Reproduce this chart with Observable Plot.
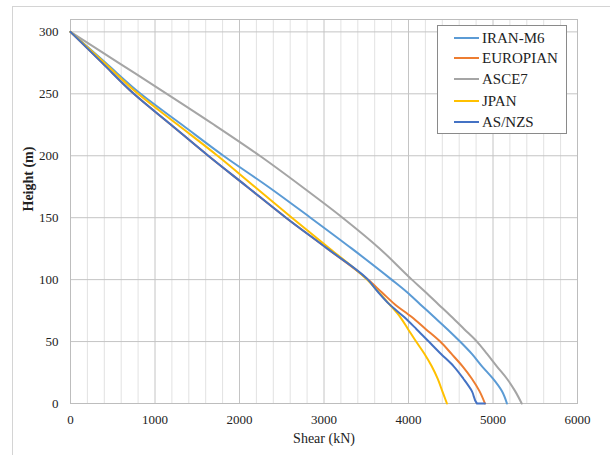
<!DOCTYPE html>
<html>
<head>
<meta charset="utf-8">
<script src="https://cdn.jsdelivr.net/npm/d3@7"></script>
<script src="https://cdn.jsdelivr.net/npm/@observablehq/plot@0.6"></script>
<style>
  html, body { margin: 0; padding: 0; background: #fff; }
  #wrap { position: relative; width: 610px; height: 455px; overflow: hidden; font-family: "Liberation Serif", serif; }
  #bt { position: absolute; left: 12px; top: 6px; right: 0; height: 0; border-top: 1px solid #d4d4d4; }
  #bl { position: absolute; left: 12px; top: 6px; bottom: 0; width: 0; border-left: 1px solid #d4d4d4; }
  #legend { position: absolute; left: 437px; top: 25px; width: 128px; height: 107px; border: 1px solid #8a8a8a; background: #fff; }
  .item { position: absolute; left: 0; height: 20px; display: flex; align-items: center; font-size: 15px; color: #222; }
  .sw { width: 25px; height: 2px; margin-left: 16px; margin-right: 3px; }
  #chart { position: absolute; left: 0; top: 0; }
</style>
</head>
<body>
<div id="wrap">
  <div id="bt"></div>
  <div id="bl"></div>
  <div id="chart"></div>
  <div id="legend"></div>
</div>
<script>
// Heights (m) at which shear values are read
const heights = [300, 275, 250, 225, 200, 175, 150, 125, 100, 90, 80, 70, 60, 50, 40, 30, 20, 10, 0];
const asnzsHeights = [300, 275, 250, 225, 200, 175, 150, 125, 100, 90, 80, 70, 60, 50, 40, 30, 20, 10, 0, 0];

// Shear (kN) per series
const iran     = [0, 415, 830, 1320, 1810, 2340, 2840, 3330, 3800, 3980, 4140, 4300, 4460, 4610, 4750, 4870, 5000, 5105, 5165];
const europian = [0, 375, 750, 1190, 1630, 2090, 2550, 3040, 3520, 3680, 3840, 4035, 4205, 4375, 4510, 4640, 4750, 4840, 4905];
const asce7    = [0, 570, 1140, 1700, 2240, 2740, 3220, 3660, 4040, 4200, 4355, 4510, 4660, 4810, 4930, 5045, 5165, 5262, 5340];
const jpan     = [0, 400, 800, 1270, 1740, 2180, 2620, 3070, 3510, 3645, 3775, 3900, 3995, 4090, 4190, 4275, 4345, 4400, 4455];
const asnzs    = [0, 375, 750, 1190, 1630, 2090, 2550, 3040, 3520, 3640, 3775, 3945, 4095, 4240, 4385, 4535, 4650, 4750, 4810, 4905];

const seriesNames = ["IRAN-M6", "EUROPIAN", "ASCE7", "JPAN", "AS/NZS"];
const seriesColors = ["#5B9BD5", "#ED7D31", "#A5A5A5", "#FFC000", "#4472C4"];

const xTicks = [0, 1000, 2000, 3000, 4000, 5000, 6000];
const yTicks = [0, 50, 100, 150, 200, 250, 300];
const xLabel = "Shear (kN)";
const yLabel = "Height (m)";

const seriesValues = [iran, europian, asce7, jpan, asnzs];
const seriesHeights = [heights, heights, heights, heights, asnzsHeights];

const minorX = d3.range(200, 6000, 200).filter(v => v % 1000 !== 0);
const FF = "Liberation Serif";

const lineMarks = seriesNames.map((name, i) => {
  const data = seriesValues[i].map((v, j) => ({shear: v, height: seriesHeights[i][j]}));
  return Plot.line(data, {x: "shear", y: "height", stroke: seriesColors[i], strokeWidth: 2, curve: "monotone-y"});
});

const chart = Plot.plot({
  width: 610,
  height: 455,
  marginLeft: 70,
  marginRight: 33,
  marginTop: 19,
  marginBottom: 52,
  style: {fontSize: "13px", background: "transparent", color: "#222"},
  x: {domain: [0, 6000]},
  y: {domain: [0, 310]},
  marks: [
    Plot.ruleX(minorX, {stroke: "#e2e2e2", strokeWidth: 1}),
    Plot.ruleX(xTicks, {stroke: "#c4c4c4", strokeWidth: 1}),
    Plot.ruleY(yTicks, {stroke: "#c4c4c4", strokeWidth: 1}),
    Plot.frame({stroke: "#bdbdbd"}),
    ...lineMarks,
    Plot.axisX({ticks: xTicks, tickSize: 0, tickPadding: 11, tickFormat: d => String(d), label: null, fontSize: 13}),
    Plot.axisY({ticks: yTicks, tickSize: 0, tickPadding: 12, tickFormat: d => String(d), label: null, fontSize: 13}),
    Plot.text([xLabel], {frameAnchor: "bottom", dy: 39, fontSize: 14, fill: "#222"}),
    Plot.text([yLabel], {frameAnchor: "left", dx: -42, rotate: -90, fontSize: 14, fontWeight: "bold", fill: "#222"})
  ]
});
chart.style.fontFamily = FF;
chart.querySelectorAll("g, text").forEach(el => {
  el.setAttribute("font-family", FF);
  el.style.fontFamily = FF;
});
document.getElementById("chart").appendChild(chart);

const legend = document.getElementById("legend");
const itemTops = [2, 22, 43, 65, 86];
seriesNames.forEach((name, i) => {
  const it = document.createElement("div");
  it.className = "item";
  it.style.top = itemTops[i] + "px";
  const sw = document.createElement("span");
  sw.className = "sw";
  sw.style.background = seriesColors[i];
  const tx = document.createElement("span");
  tx.textContent = name;
  it.appendChild(sw);
  it.appendChild(tx);
  legend.appendChild(it);
});
</script>
</body>
</html>
